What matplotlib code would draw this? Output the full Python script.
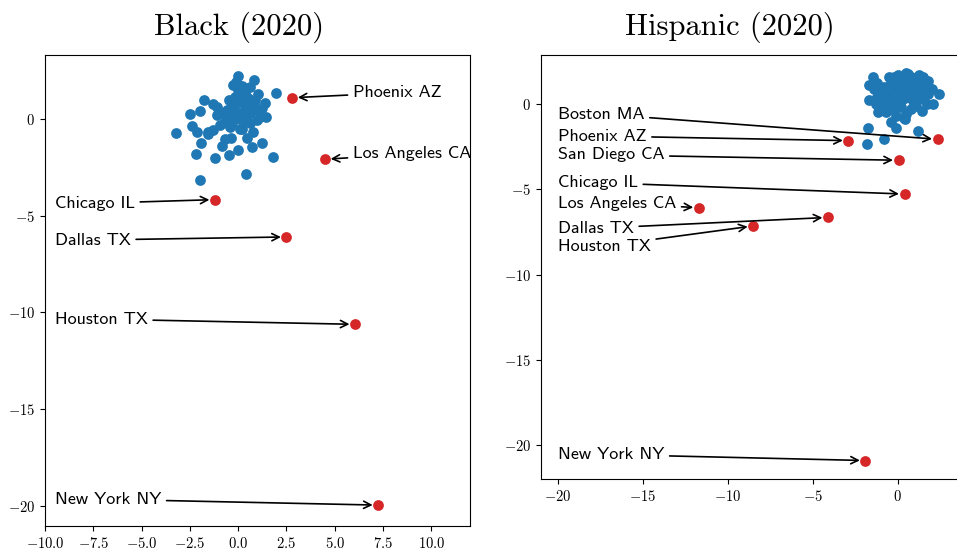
import matplotlib
matplotlib.use("Agg")
import matplotlib.pyplot as plt
from matplotlib.ticker import MultipleLocator, FuncFormatter

plt.rcParams["mathtext.fontset"] = "cm"

# ---- Black (2020) ----
black_x = [-3.2, -2.0, 0.4, 1.8, 1.95, 0.8, 0.0, -1.75, -2.5, -2.0, -2.2, -1.2,
           -0.45, 0.0, -1.9, -2.4, -2.15, 0.7, 1.25, 1.45, 1.4, 1.05, -1.3, -1.55,
           -0.85, -0.7, -0.35, 0.1, 0.45, 0.75, -1.12, -0.86, -0.6, -0.34, -0.17,
           0.0, -0.26, 0.17, 0.43, 0.6, 0.95, 1.21, 0.86, 0.34, -0.43, -0.08, 0.26,
           0.6, -0.69, -0.95, -1.29, -1.55, -0.43, 0.95, 0.6, 1.12, -1.12, -0.2,
           0.1, 0.3, -0.5, 0.5, -0.1, 0.2, -0.3, 0.2, 0.15, -0.05, 0.45, 0.75,
           -0.25, 0.05]
black_y = [-0.7, -3.15, -2.85, -1.95, 1.33, 2.0, 2.2, 1.0, 0.25, 0.4, -1.8, -2.0,
           -1.85, -1.6, -1.25, -0.35, -0.65, -1.45, -1.25, 0.1, 0.85, 1.3, 0.8, -0.75,
           -1.4, -1.05, -1.0, -0.5, -1.0, -0.65, 0.64, 0.29, 0.47, 0.81, 1.16,
           1.5, 1.76, 0.98, 0.64, 0.29, 0.47, 0.55, 0.98, 1.33, 0.12, 0.03, -0.14,
           -0.22, -0.14, -0.31, -0.57, -0.66, -0.4, -0.05, 1.67, 0.12, 0.21, 0.6,
           0.3, 0.8, 1.0, 1.1, 1.9, 1.7, -0.2, -0.5, 1.3, 0.9, 0.2, 0.7,
           0.4, 0.05]
black_cities = ["Phoenix AZ", "Los Angeles CA", "Chicago IL", "Dallas TX",
                "Houston TX", "New York NY"]
black_city_x = [2.8, 4.5, -1.2, 2.5, 6.05, 7.25]
black_city_y = [1.1, -2.08, -4.17, -6.1, -10.62, -19.97]
black_label_x = [5.95, 5.95, -9.5, -9.5, -9.5, -9.5]
black_label_y = [1.36, -1.81, -4.36, -6.26, -10.35, -19.67]

# ---- Hispanic (2020) ----
hisp_x = [-1.47, -1.7, -1.66, -1.18, -1.74, -1.82, -0.78, -0.39, -0.1, 0.39, 1.22,
          2.06, 2.4, 1.77, 0.59, -0.2, 1.27, -1.2, -1.0, -0.8, -0.6, -0.4, -0.2,
          0.0, 0.2, 0.4, 0.6, 0.8, 1.0, 1.2, 1.4, 1.6, 1.8, 2.0, 1.5, 1.2, 0.9,
          0.6, 0.3, 0.0, -0.3, -0.6, -0.9, -1.2, -1.4, -1.0, -0.7, -0.4, -0.1,
          0.2, 0.5, 0.8, 1.1, 1.4, 1.7, 0.3, 0.7, 1.0, -0.5, 0.0, 1.5, -0.1, 0.4,
          1.0, 0.5, -1.3, 0.2]
hisp_y = [1.56, 1.12, 0.24, -0.45, -1.43, -2.36, -2.07, -1.03, -1.43, -0.84, -1.56,
          0.0, 0.59, 1.37, 1.76, 1.56, 1.7, 1.2, 0.8, 1.0, 0.6, 1.3, 0.9,
          1.2, 1.5, 1.0, 1.3, 1.6, 1.1, 1.4, 0.9, 1.2, 0.6, 0.9, 0.3, 0.5, 0.2,
          0.4, 0.3, 0.5, 0.2, 0.0, 0.3, 0.4, 0.9, -0.2, -0.5, -0.3, -0.1,
          -0.2, -0.6, -0.3, -0.1, -0.4, 0.0, 0.7, 0.8, 0.6, 1.6, 1.7, 1.6, -0.7, -0.9,
          1.5, 1.8, 0.0, 1.0]
hisp_cities = ["Boston MA", "Phoenix AZ", "San Diego CA", "Chicago IL",
               "Los Angeles CA", "Dallas TX", "Houston TX", "New York NY"]
hisp_city_x = [2.35, -2.9, 0.05, 0.4, -11.7, -4.1, -8.5, -1.9]
hisp_city_y = [-2.07, -2.15, -3.3, -5.28, -6.08, -6.65, -7.15, -20.9]
hisp_label_x = [-20.0] * 8
hisp_label_y = [-0.59, -1.88, -2.99, -4.61, -5.83, -7.29, -8.33, -20.55]

BLUE = "#1f77b4"
RED = "#d62728"


def tex_fmt(decimals):
    return FuncFormatter(lambda v, pos: r"$%.*f$" % (decimals, v))


def draw(ax, px, py, cities, cx, cy, lx, ly):
    ax.scatter(px, py, s=60, color=BLUE, zorder=2, linewidths=0)
    ax.scatter(cx, cy, s=60, color=RED, zorder=3, linewidths=0)
    for name, x, y, tx, ty in zip(cities, cx, cy, lx, ly):
        ax.annotate(name, xy=(x, y), xytext=(tx, ty), ha="left", va="center",
                    fontfamily="cmss10", fontsize=13,
                    arrowprops=dict(arrowstyle="->", color="black", lw=1.2,
                                    shrinkB=4))
    ax.tick_params(labelsize=10.5)


fig = plt.figure(figsize=(9.57, 5.5), dpi=100)

ax1 = fig.add_axes([45 / 957, 24 / 550, 425 / 957, 471 / 550])
draw(ax1, black_x, black_y, black_cities, black_city_x, black_city_y,
     black_label_x, black_label_y)
ax1.set_xlim(-10, 12)
ax1.set_ylim(-21.05, 3.31)
ax1.xaxis.set_major_locator(MultipleLocator(2.5))
ax1.yaxis.set_major_locator(MultipleLocator(5))
ax1.xaxis.set_major_formatter(tex_fmt(1))
ax1.yaxis.set_major_formatter(tex_fmt(0))

ax2 = fig.add_axes([540.7 / 957, 70.7 / 550, 425 / 957, 424.3 / 550])
draw(ax2, hisp_x, hisp_y, hisp_cities, hisp_city_x, hisp_city_y,
     hisp_label_x, hisp_label_y)
ax2.set_xlim(-21, 4)
ax2.set_ylim(-22.0, 2.87)
ax2.xaxis.set_major_locator(MultipleLocator(5))
ax2.yaxis.set_major_locator(MultipleLocator(5))
ax2.xaxis.set_major_formatter(tex_fmt(0))
ax2.yaxis.set_major_formatter(tex_fmt(0))

fig.text(239 / 957, 1 - 27 / 550, "Black (2020)", ha="center", va="center",
         fontfamily="cmr10", fontsize=22)
fig.text(730 / 957, 1 - 27 / 550, "Hispanic (2020)", ha="center", va="center",
         fontfamily="cmr10", fontsize=22)

fig.savefig("out.png", dpi=100)
